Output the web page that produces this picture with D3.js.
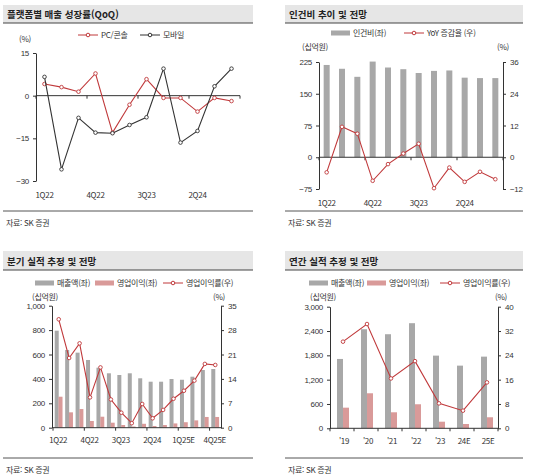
<!DOCTYPE html>
<html lang="ko">
<head>
<meta charset="UTF-8">
<title>플랫폼별 매출 / 인건비 / 실적 전망</title>
<script src="https://d3js.org/d3.v7.min.js"></script>
<style>
  body { margin: 0; background: #fff; }
  svg { display: block; font-family: "Noto Sans CJK KR", "Noto Sans", sans-serif; }
  .tick text, .lbl { font-size: 8px; fill: #333; letter-spacing: -0.3px; }
  .axis path, .axis line { stroke: #333; stroke-width: 1; }
  .title { font-size: 9.5px; font-weight: bold; fill: #222; }
</style>
</head>
<body>
<div id="chart"></div>
<script>
// ---- data ----
const quarters12 = ["1Q22","2Q22","3Q22","4Q22","1Q23","2Q23","3Q23","4Q23","1Q24","2Q24","3Q24","4Q24"];
const pcConsole = [4.1, 3.0, 1.4, 7.8, -13.0, -3.2, 5.8, -0.8, -0.8, -5.6, -0.8, -1.9];
const mobile    = [6.6, -25.9, -7.8, -13.0, -13.2, -10.3, -7.6, 9.5, -16.5, -12.4, 3.3, 9.5];

const laborCost = [218, 209, 190, 226, 212, 208, 199, 204, 205, 188, 187, 187];
const laborYoY  = [-5.7, 11.5, 8.9, -8.9, -2.6, 1.4, 5.1, -11.7, -3.9, -9.3, -5.5, -8.3];

const quarters16 = ["1Q22","2Q22","3Q22","4Q22","1Q23","2Q23","3Q23","4Q23",
                    "1Q24","2Q24","3Q24","4Q24","1Q25E","2Q25E","3Q25E","4Q25E"];
const qSales  = [795, 637, 615, 555, 492, 446, 432, 446, 405, 377, 377, 399, 393, 418, 473, 481];
const qOP     = [254, 126, 153, 55, 90, 41, 22, 10, 32, 14, 22, 35, 45, 60, 88, 88];
const qMargin = [31.1, 20.0, 24.2, 8.7, 17.3, 8.1, 4.3, 1.3, 6.8, 2.7, 5.1, 8.3, 10.6, 13.5, 18.3, 18.0];

const years   = ["'19", "'20", "'21", "'22", "'23", "24E", "25E"];
const ySales  = [1711, 2444, 2321, 2593, 1793, 1546, 1768];
const yOP     = [509, 864, 395, 593, 163, 106, 272];
const yMargin = [28.5, 34.3, 16.4, 22.1, 8.2, 5.8, 15.1];

const RED = "#c0393b", GRAY = "#a8a8a8", PINK = "#d99a99", DARK = "#333";

const svg = d3.select("#chart").append("svg").attr("width", 540).attr("height", 475);

// ---- helpers ----
function frame(x0, x1, y0, y1, title, srcY) {
  svg.append("rect").attr("x", x0).attr("y", y0).attr("width", x1 - x0).attr("height", y1 - y0).attr("fill", "#e6e6e6");
  svg.append("line").attr("x1", x0).attr("x2", x1).attr("y1", y1).attr("y2", y1).attr("stroke", "#444");
  svg.append("text").attr("class", "title").attr("x", x0 + 4).attr("y", y1 - 5).text(title);
  svg.append("line").attr("x1", x0).attr("x2", x1).attr("y1", srcY).attr("y2", srcY).attr("stroke", "#555");
  svg.append("text").attr("class", "lbl").attr("x", x0 + 3).attr("y", srcY + 15).text("자료: SK 증권");
}
function lineLegend(x, y, color, label) {
  svg.append("line").attr("x1", x).attr("x2", x + 20).attr("y1", y).attr("y2", y).attr("stroke", color);
  svg.append("circle").attr("cx", x + 10).attr("cy", y).attr("r", 1.8).attr("fill", "#fff").attr("stroke", color);
  svg.append("text").attr("class", "lbl").attr("x", x + 23).attr("y", y + 3).text(label);
}
function swatchLegend(x, y, color, label) {
  svg.append("rect").attr("x", x).attr("y", y - 2.5).attr("width", 19).attr("height", 5).attr("fill", color);
  svg.append("text").attr("class", "lbl").attr("x", x + 22).attr("y", y + 3).text(label);
}
function unit(x, y, t, anchor) {
  svg.append("text").attr("class", "lbl").attr("x", x).attr("y", y).attr("text-anchor", anchor || "start").text(t);
}
function yAxis(x, scale, ticks, side, fmt) {
  const ax = (side === "left" ? d3.axisLeft(scale) : d3.axisRight(scale))
    .tickValues(ticks).tickSize(3).tickSizeOuter(0).tickPadding(4).tickFormat(fmt || d3.format(","));
  svg.append("g").attr("class", "axis").attr("transform", `translate(${x},0)`).call(ax);
}
function catAxis(xs, y, x0, x1, tickEvery, labelEvery, labelY, labels) {
  const g = svg.append("g").attr("class", "axis");
  g.append("line").attr("x1", x0).attr("x2", x1).attr("y1", y).attr("y2", y);
  const n = xs.domain().length;
  for (let i = 0; i <= n; i += tickEvery) {
    const tx = i < n ? xs(xs.domain()[i]) : x1;
    g.append("line").attr("x1", tx).attr("x2", tx).attr("y1", y).attr("y2", y + 3);
  }
  xs.domain().forEach((d, i) => {
    if (i % labelEvery === 0) {
      svg.append("text").attr("class", "lbl").attr("x", xs(d) + xs.bandwidth() / 2 + (labels ? 2 : 0))
        .attr("y", labelY).attr("text-anchor", "middle").text(d);
    }
  });
}
function drawLine(data, xf, yf, color) {
  svg.append("path").datum(data).attr("fill", "none").attr("stroke", color).attr("stroke-width", 1.1)
    .attr("d", d3.line().x((d, i) => xf(i)).y(d => yf(d)));
  svg.append("g").selectAll("circle").data(data).join("circle")
    .attr("cx", (d, i) => xf(i)).attr("cy", d => yf(d)).attr("r", 1.8)
    .attr("fill", "#fff").attr("stroke", color).attr("stroke-width", 0.9);
}

// ---- panel 1 : 플랫폼별 매출 성장률 ----
frame(3, 253, 5, 23, "플랫폼별 매출 성장률(QoQ)", 211);
lineLegend(78, 35, RED, "PC/콘솔");
lineLegend(140, 35, DARK, "모바일");
unit(19, 42, "(%)");
{
  const x = d3.scaleBand().domain(quarters12).range([36, 240]);
  const y = d3.scaleLinear().domain([-30, 15]).range([181, 53]);
  yAxis(36, y, [-30, -15, 0, 15], "left");
  catAxis(x, y(0), 36, 240, 3, 3, 198);
  svg.selectAll(".lbl-dummy");
  const cx = i => x(quarters12[i]) + x.bandwidth() / 2;
  drawLine(pcConsole, cx, y, RED);
  drawLine(mobile, cx, y, DARK);
}

// ---- panel 2 : 인건비 추이 및 전망 ----
frame(285, 523, 5, 23, "인건비 추이 및 전망", 211);
swatchLegend(331, 33, GRAY, "인건비(좌)");
lineLegend(404, 33, RED, "YoY 증감율 (우)");
unit(302, 50, "(십억원)");
unit(497, 50, "(%)");
{
  const x = d3.scaleBand().domain(quarters12).range([319, 503]);
  const yl = d3.scaleLinear().domain([-75, 225]).range([189, 62]);
  const yr = d3.scaleLinear().domain([-12, 36]).range([189, 62]);
  svg.append("g").selectAll("rect").data(laborCost).join("rect")
    .attr("x", (d, i) => x(quarters12[i]) + x.bandwidth() / 2 - 3).attr("width", 6)
    .attr("y", d => yl(d)).attr("height", d => yl(0) - yl(d)).attr("fill", GRAY);
  yAxis(319, yl, [-75, 0, 75, 150, 225], "left");
  yAxis(503, yr, [-12, 0, 12, 24, 36], "right");
  catAxis(x, yl(0), 319, 503, 3, 3, 206);
  drawLine(laborYoY, i => x(quarters12[i]) + x.bandwidth() / 2, yr, RED);
}

// ---- panel 3 : 분기 실적 추정 및 전망 ----
frame(3, 253, 251, 270, "분기 실적 추정 및 전망", 458);
swatchLegend(35, 283, GRAY, "매출액(좌)");
swatchLegend(95, 283, PINK, "영업이익(좌)");
lineLegend(163, 283, RED, "영업이익률(우)");
unit(32, 300, "(십억원)");
unit(213, 300, "(%)");
{
  const x = d3.scaleBand().domain(quarters16).range([53, 220]);
  const yl = d3.scaleLinear().domain([0, 1000]).range([427.7, 305.7]);
  const yr = d3.scaleLinear().domain([0, 35]).range([427.7, 305.7]);
  const c = i => x(quarters16[i]) + x.bandwidth() / 2;
  svg.append("g").selectAll("rect").data(qSales).join("rect")
    .attr("x", (d, i) => c(i) - 3.5).attr("width", 4)
    .attr("y", d => yl(d)).attr("height", d => yl(0) - yl(d)).attr("fill", GRAY);
  svg.append("g").selectAll("rect").data(qOP).join("rect")
    .attr("x", (d, i) => c(i) + 0.3).attr("width", 4)
    .attr("y", d => yl(d)).attr("height", d => yl(0) - yl(d)).attr("fill", PINK);
  yAxis(52, yl, [0, 200, 400, 600, 800, 1000], "left");
  yAxis(221, yr, [0, 7, 14, 21, 28, 35], "right");
  catAxis(x, yl(0), 52, 221, 3, 3, 443);
  drawLine(qMargin, i => c(i) + 0.5, yr, RED);
}

// ---- panel 4 : 연간 실적 추정 및 전망 ----
frame(285, 523, 251, 270, "연간 실적 추정 및 전망", 458);
swatchLegend(309, 283, GRAY, "매출액(좌)");
swatchLegend(367, 283, PINK, "영업이익(좌)");
lineLegend(440, 283, RED, "영업이익률(우)");
unit(310, 300, "(십억원)");
unit(495, 300, "(%)");
{
  const x = d3.scaleBand().domain(years).range([330, 498]);
  const yl = d3.scaleLinear().domain([0, 3000]).range([428.3, 306.7]);
  const yr = d3.scaleLinear().domain([0, 40]).range([428.3, 306.7]);
  const c = i => x(years[i]) + x.bandwidth() / 2;
  svg.append("g").selectAll("rect").data(ySales).join("rect")
    .attr("x", (d, i) => c(i) - 5).attr("width", 6)
    .attr("y", d => yl(d)).attr("height", d => yl(0) - yl(d)).attr("fill", GRAY);
  svg.append("g").selectAll("rect").data(yOP).join("rect")
    .attr("x", (d, i) => c(i) + 1).attr("width", 6)
    .attr("y", d => yl(d)).attr("height", d => yl(0) - yl(d)).attr("fill", PINK);
  yAxis(330, yl, [0, 600, 1200, 1800, 2400, 3000], "left");
  yAxis(498, yr, [0, 8, 16, 24, 32, 40], "right");
  catAxis(x, yl(0), 330, 498, 1, 1, 444, true);
  drawLine(yMargin, i => c(i) + 1, yr, RED);
}
</script>
</body>
</html>
